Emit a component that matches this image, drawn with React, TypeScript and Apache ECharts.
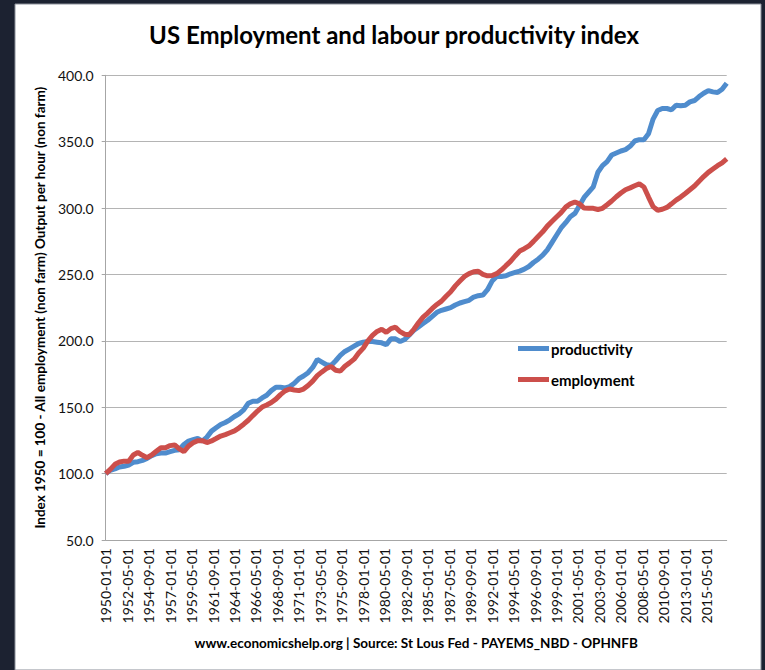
import React, { useEffect, useRef } from "react";
import * as echarts from "echarts";

// Half-yearly readings (Jan / Jul), 1950-01 .. 2017-07, index 1950 = 100
const productivity = [
  100, 102.5, 103.5, 105, 105.5, 106.5, 108.5, 109, 110, 111.5,
  113.5, 115, 115.5, 115.5, 116.5, 117.5, 118, 122, 124.5, 125.5,
  126.5, 124.5, 127.5, 132, 134.5, 137, 138.5, 140.5, 143, 145,
  148, 153, 154.5, 154.5, 157, 159, 162.5, 165, 165, 164.5,
  165.5, 168, 171.5, 173.5, 176, 180, 186, 184, 182, 181.5,
  185, 189, 192, 194, 196, 198, 199, 199.5, 199.5, 199,
  198.5, 197, 201.5, 201.5, 199.5, 201, 204.5, 208, 210.5, 213,
  215.5, 218.5, 221.5, 223, 224, 225, 227, 228.5, 229.5, 230.5,
  233, 234, 234.5, 238.5, 245, 248.5, 248.5, 249, 250.5, 251.5,
  252.5, 254, 256, 259, 261.5, 264.5, 268.5, 274, 279.5, 285,
  289, 293.5, 296, 302, 308, 312, 316, 327, 332, 335,
  340, 341.5, 343, 344, 346.5, 350.5, 351.5, 351.5, 356, 367,
  373.5, 375, 375, 374, 377.5, 377, 377.5, 380, 381, 384,
  386.5, 388.5, 387.5, 387, 389.5, 394,
];

const employment = [
  100, 103.2, 107, 108.7, 109.4, 109.4, 114, 115.9, 113.8, 112,
  114, 116.8, 119.5, 119.5, 121.1, 121.6, 118.6, 116.5, 120.7, 123.2,
  124.8, 124.8, 123.4, 124.6, 126.4, 128.3, 129.4, 130.8, 132.2, 134.5,
  137.2, 140.2, 143.7, 147.1, 150.1, 151.7, 153.6, 156.1, 159.5, 162.3,
  163.7, 163, 162.5, 163.7, 166.4, 169.7, 173.8, 176.6, 179.1, 180.7,
  177.9, 177.2, 180.9, 183.4, 186.2, 190.8, 194.5, 200, 204.1, 207.1,
  208.7, 206.4, 209.2, 210.3, 206.9, 205, 204.6, 208.7, 213.6, 217.9,
  220.9, 224.4, 227.4, 229.9, 233.6, 237, 241.4, 245, 248.5, 250.6,
  252, 252.4, 250.1, 249, 249.2, 250.6, 253.3, 256.6, 259.8, 263.9,
  267.6, 269.4, 271.5, 274.9, 278.6, 282.1, 286.4, 289.9, 293.3, 296.6,
  300.7, 303.2, 304.6, 303.2, 300, 299.8, 299.8, 298.9, 299.8, 302.5,
  305.3, 308.5, 311.3, 313.8, 315.2, 316.8, 318.2, 315.9, 308.3, 301.1,
  298.4, 299.1, 300.5, 303.2, 306, 308.3, 311, 313.8, 316.6, 320.2,
  323.7, 326.9, 329.4, 331.9, 334, 337,
];

const startYear = 1950;
const monthsPerPoint = 6;
const labelEveryMonths = 28;
const lastMonth = (productivity.length - 1) * monthsPerPoint;

const title = "US Employment and labour productivity index";
const yName = "Index 1950 = 100 - All employment (non farm) Output per hour (non farm)";
const xName = "www.economicshelp.org | Source: St Lous Fed - PAYEMS_NBD - OPHNFB";
const seriesNames = ["productivity", "employment"];

const monthLabel = (m: number) => {
  const y = startYear + Math.floor(m / 12);
  const mo = (m % 12) + 1;
  return `${y}-${mo < 10 ? "0" + mo : mo}-01`;
};

const FONT = "Lato, 'Open Sans', sans-serif";

export default function App() {
  const ref = useRef<HTMLDivElement>(null);
  useEffect(() => {
    if (!ref.current) return;
    const chart = echarts.init(ref.current, undefined, { renderer: "svg" });
    chart.setOption({
      animation: false,
      backgroundColor: "#1c2231",
      graphic: [
        {
          type: "rect",
          z: -10,
          shape: { x: 15, y: 4, width: 746, height: 666 },
          style: { fill: "#ffffff", stroke: "#8a8f99", lineWidth: 1 },
        },
      ],
      title: {
        text: title,
        left: 389,
        top: 17,
        textAlign: "center",
        textStyle: { fontFamily: FONT, fontSize: 24, fontWeight: "bold", color: "#000" },
      },
      legend: {
        orient: "vertical",
        left: 518,
        top: 341,
        padding: 0,
        itemWidth: 31,
        itemHeight: 5,
        itemGap: 16,
        icon: "rect",
        data: seriesNames,
        textStyle: { fontFamily: FONT, fontSize: 15, fontWeight: "bold", color: "#000", padding: [0, 0, 0, -3] },
      },
      grid: { left: 105.7, right: 38.3, top: 75.3, bottom: 130, containLabel: false },
      xAxis: {
        type: "value",
        min: 0,
        max: lastMonth,
        interval: labelEveryMonths,
        name: xName,
        nameLocation: "middle",
        nameGap: 96,
        nameTextStyle: { fontFamily: FONT, fontSize: 13.5, fontWeight: "bold", color: "#000" },
        axisLine: { show: true, lineStyle: { color: "#a6a6a6", width: 1 } },
        axisTick: { show: false },
        splitLine: { show: false },
        axisLabel: {
          rotate: 90,
          margin: 8,
          showMaxLabel: false,
          fontFamily: FONT,
          fontSize: 14,
          color: "#111",
          formatter: (v: number) => monthLabel(v),
        },
      },
      yAxis: {
        type: "value",
        min: 50,
        max: 400,
        interval: 50,
        name: yName,
        nameLocation: "middle",
        nameGap: 56,
        nameRotate: 90,
        nameTextStyle: { fontFamily: FONT, fontSize: 13.5, fontWeight: "bold", color: "#000" },
        axisLine: { show: true, lineStyle: { color: "#a6a6a6", width: 1 } },
        axisTick: { show: true, length: 4, lineStyle: { color: "#a6a6a6" } },
        splitLine: { show: true, lineStyle: { color: "#b4b4b4", width: 1 } },
        axisLabel: {
          margin: 12,
          fontFamily: FONT,
          fontSize: 14,
          color: "#111",
          formatter: (v: number) => v.toFixed(1),
        },
      },
      series: [
        {
          name: seriesNames[0],
          type: "line",
          showSymbol: false,
          symbol: "none",
          data: productivity.map((v, i) => [i * monthsPerPoint, v]),
          lineStyle: { color: "#4f8ccd", width: 5 },
          itemStyle: { color: "#4f8ccd" },
          z: 2,
        },
        {
          name: seriesNames[1],
          type: "line",
          showSymbol: false,
          symbol: "none",
          data: employment.map((v, i) => [i * monthsPerPoint, v]),
          lineStyle: { color: "#cc4f4b", width: 5 },
          itemStyle: { color: "#cc4f4b" },
          z: 3,
        },
      ],
    });
    return () => chart.dispose();
  }, []);
  return (
    <div
      ref={ref}
      style={{ position: "fixed", left: 0, top: 0, width: 765, height: 670 }}
    />
  );
}
